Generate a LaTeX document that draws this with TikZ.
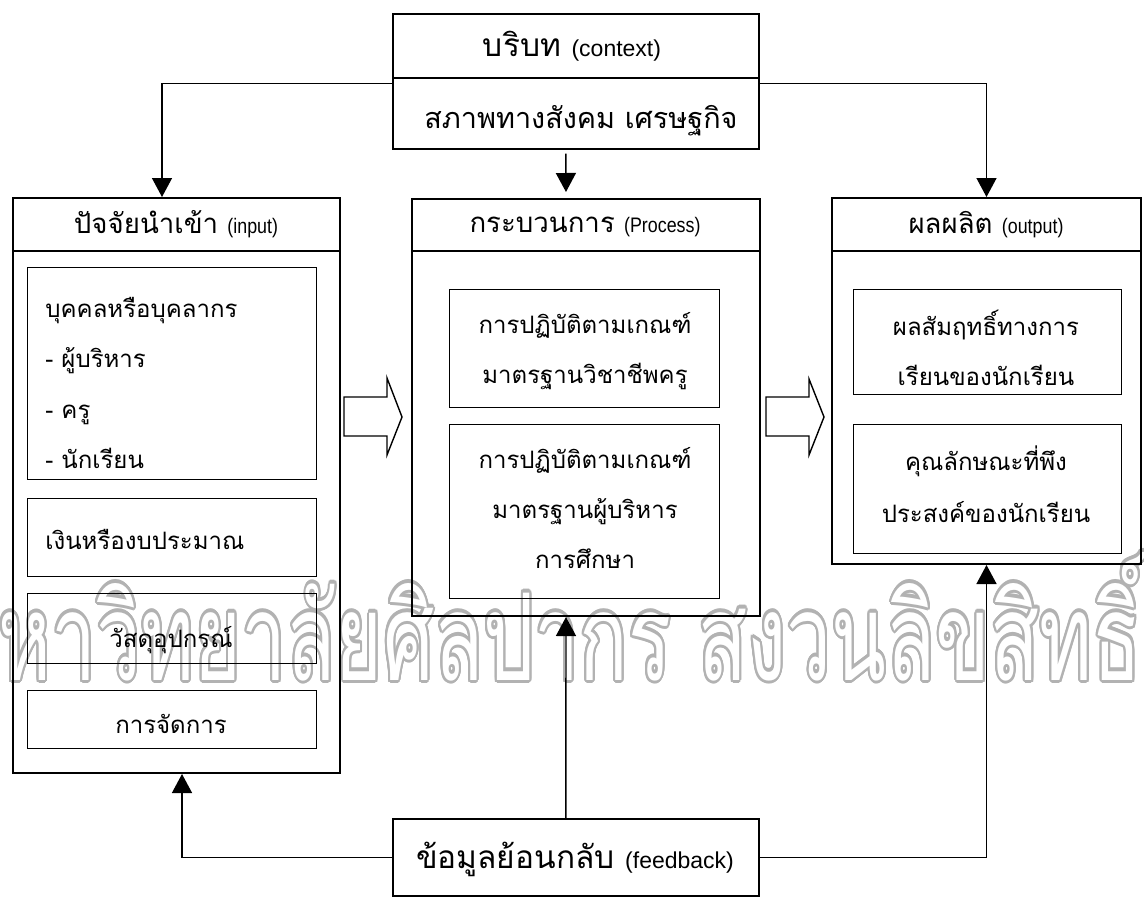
\documentclass[tikz,border=0pt]{standalone}
\usepackage{fontspec}
\setmainfont[Script=Thai]{Loma}
\newfontfamily\latinf{Liberation Sans}
\newfontfamily\latinn[FakeStretch=0.85]{Liberation Sans}
\usepackage{contour}
\contourlength{0.25pt}
\contournumber{24}
\usetikzlibrary{arrows.meta}
\newlength{\pxu}\setlength{\pxu}{0.5pt}
\newcommand{\hlat}[1]{{\latinn\fontsize{10.5}{12}\selectfont #1}}
\newcommand{\clat}[1]{{\latinf\fontsize{11.5}{13}\selectfont #1}}
\tikzset{
 obox/.style={draw, line width=1pt, inner sep=0, anchor=north west},
 cbox/.style={obox, line width=0.8pt},
 ibox/.style={draw, line width=0.7pt, inner sep=0, anchor=north west},
 lbl/.style={inner sep=0, anchor=base, font=\fontsize{12}{14}\selectfont},
 lblw/.style={lbl, anchor=base west},
 hdr/.style={inner sep=0, anchor=base, font=\fontsize{13.8}{16}\selectfont},
 big/.style={inner sep=0, anchor=base, font=\fontsize{14.4}{17}\selectfont},
 bigger/.style={inner sep=0, anchor=base, font=\fontsize{15.8}{18}\selectfont},
 conn/.style={line width=0.7pt, -{Triangle[width=10pt,length=9.5pt]}},
 blk/.style={line width=0.7pt, line join=miter},
}
\begin{document}
\begin{tikzpicture}[x=0.5pt,y=-0.5pt]
\useasboundingbox (0,0) rectangle (1144,899);
% watermark
\node[inner sep=0, anchor=base east] (wm) at (1142,680) {\resizebox{598pt}{64pt}{\contour{black!30}{\textcolor{white}{มหาวิทยาลัยศิลปากร สงวนลิขสิทธิ์}}}};
% context
\node[cbox, minimum width=366\pxu, minimum height=135\pxu] (ctx) at (392,13) {};
\node[cbox, minimum width=366\pxu, minimum height=64\pxu] (ctxh) at (392,13) {};
\node[bigger] (ctxt) at (572,57) {บริบท \clat{(context)}};
\node[big] (ctxb) at (581,128) {สภาพทางสังคม เศรษฐกิจ};
% input
\node[obox, minimum width=327\pxu, minimum height=575\pxu] (inp) at (12,197) {};
\node[obox, minimum width=327\pxu, minimum height=53\pxu] (inph) at (12,197) {};
\node[hdr] (inpt) at (176,233) {ปัจจัยนำเข้า \hlat{(input)}};
\node[ibox, minimum width=289\pxu, minimum height=212\pxu] (in1) at (27,267) {};
\node[lblw] (in1a) at (45,317) {บุคคลหรือบุคลากร};
\node[lblw] (in1b) at (45,367) {- ผู้บริหาร};
\node[lblw] (in1c) at (45,418) {- ครู};
\node[lblw] (in1d) at (45,468) {- นักเรียน};
\node[ibox, minimum width=289\pxu, minimum height=78\pxu] (in2) at (27,498) {};
\node[lblw] (in2a) at (45,549) {เงินหรืองบประมาณ};
\node[ibox, minimum width=289\pxu, minimum height=70\pxu] (in3) at (27,593) {};
\node[lbl] (in3a) at (171,647) {วัสดุอุปกรณ์};
\node[ibox, minimum width=289\pxu, minimum height=58\pxu] (in4) at (27,690) {};
\node[lbl] (in4a) at (171,733) {การจัดการ};
% process
\node[obox, minimum width=348\pxu, minimum height=417\pxu] (proc) at (411,198) {};
\node[obox, minimum width=348\pxu, minimum height=52\pxu] (proch) at (411,198) {};
\node[hdr] (proct) at (585,232) {กระบวนการ \hlat{(Process)}};
\node[ibox, minimum width=270\pxu, minimum height=118\pxu] (pr1) at (449,289) {};
\node[lbl] (pr1a) at (585,333) {การปฏิบัติตามเกณฑ์};
\node[lbl] (pr1b) at (585,383) {มาตรฐานวิชาชีพครู};
\node[ibox, minimum width=270\pxu, minimum height=174\pxu] (pr2) at (449,424) {};
\node[lbl] (pr2a) at (585,468) {การปฏิบัติตามเกณฑ์};
\node[lbl] (pr2b) at (585,518) {มาตรฐานผู้บริหาร};
\node[lbl] (pr2c) at (585,568) {การศึกษา};
% output
\node[obox, minimum width=309\pxu, minimum height=366\pxu] (out) at (831,197) {};
\node[obox, minimum width=309\pxu, minimum height=53\pxu] (outh) at (831,197) {};
\node[hdr] (outt) at (986,233) {ผลผลิต \hlat{(output)}};
\node[ibox, minimum width=268\pxu, minimum height=105\pxu] (ou1) at (853,289) {};
\node[lbl] (ou1a) at (986,335) {ผลสัมฤทธิ์ทางการ};
\node[lbl] (ou1b) at (986,385) {เรียนของนักเรียน};
\node[ibox, minimum width=268\pxu, minimum height=129\pxu] (ou2) at (853,424) {};
\node[lbl] (ou2a) at (986,470) {คุณลักษณะที่พึง};
\node[lbl] (ou2b) at (986,522) {ประสงค์ของนักเรียน};
% feedback
\node[cbox, minimum width=366\pxu, minimum height=77\pxu] (fb) at (392,818) {};
\node[bigger] (fbt) at (575,868) {ข้อมูลย้อนกลับ \clat{(feedback)}};
% connectors
\draw[conn] ([yshift=-2.5\pxu]ctx.west) -| ([xshift=-14.5\pxu]inph.north);
\draw[conn] ([yshift=-2.5\pxu]ctx.east) -| (outh.north);
\draw[conn, shorten <=4\pxu, shorten >=6\pxu] ([xshift=-10\pxu]ctx.south) -- ([xshift=-20\pxu]proch.north);
\draw[conn] (fb.west) -| ([xshift=5.5\pxu]inp.south);
\draw[conn] ([xshift=-10\pxu]fb.north) -- ([xshift=-20\pxu]proc.south);
\draw[conn] (fb.east) -| (out.south);
% block arrows
\draw[blk] (344,397) -- (387,397) -- (387,378) -- (402,417) -- (387,455) -- (387,436) -- (344,436) -- cycle;
\draw[blk] (766,397) -- (809,397) -- (809,379) -- (824,417) -- (809,455) -- (809,436) -- (766,436) -- cycle;
\end{tikzpicture}
\end{document}
